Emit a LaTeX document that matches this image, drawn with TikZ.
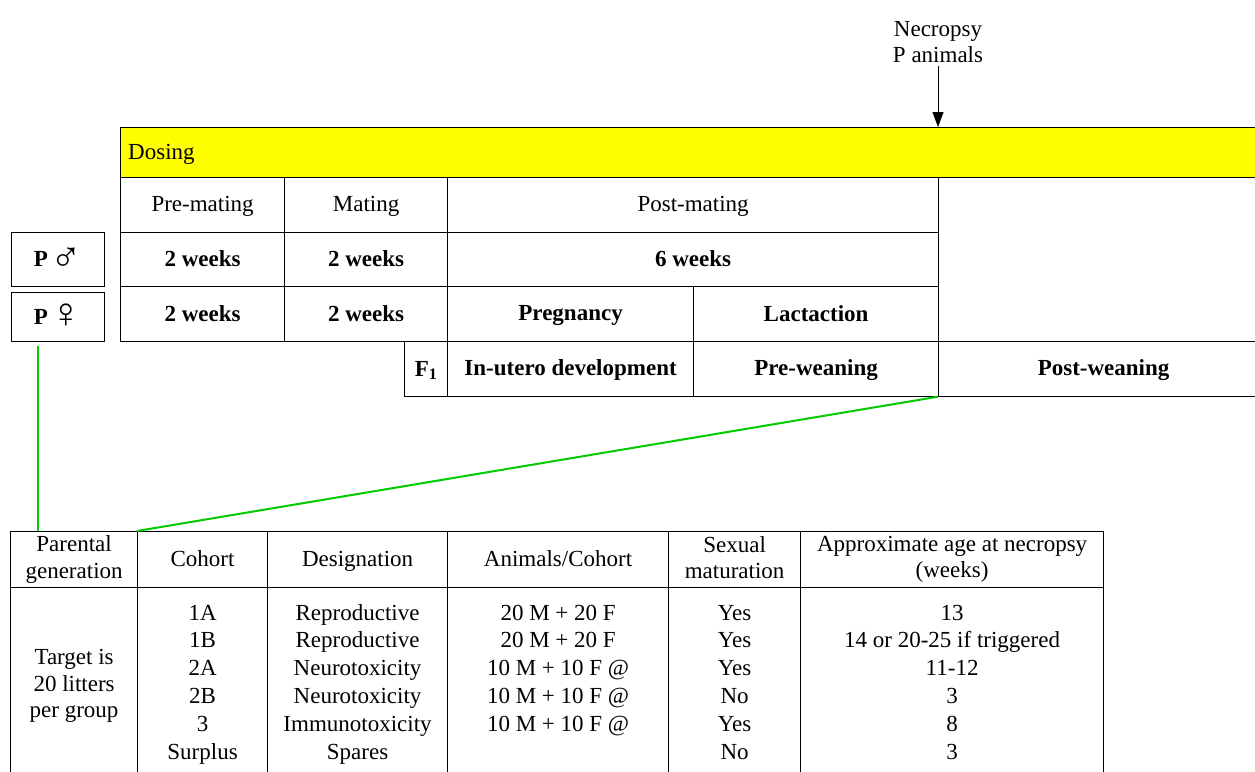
\documentclass[tikz,border=0pt]{standalone}
\usepackage{fontspec}
\setmainfont{Liberation Serif}
\usetikzlibrary{arrows.meta, calc, positioning}
\definecolor{dosingyellow}{RGB}{255,255,0}
\definecolor{linkgreen}{RGB}{0,204,0}
\newcommand{\cellstrut}{\rule[-3.5pt]{0pt}{22pt}}
\newcommand{\malesign}{\smash{\raisebox{-5pt}{\mdseries\fontsize{42}{42}\selectfont\char"2642}}}
\newcommand{\femalesign}{\smash{\raisebox{-3pt}{\mdseries\fontsize{42}{42}\selectfont\char"2640}}}
\tikzset{
  cell/.style={
    draw,
    rectangle,
    inner sep=0pt,
    anchor=north west,
    align=center,
    line width=1.2pt,
    execute at begin node=\cellstrut,
    execute at end node=\cellstrut
  },
  bold cell/.style={
    cell,
    font=\fontsize{23}{26.5}\selectfont\bfseries
  },
  dosing band/.style={
    cell,
    fill=dosingyellow
  },
  link line/.style={
    draw=linkgreen,
    line width=2pt
  },
  necropsy arrow/.style={
    -{Triangle[length=15pt, width=11pt]},
    line width=1pt
  },
  entry/.style={
    anchor=base,
    inner sep=0pt
  }
}

\begin{document}
\begin{tikzpicture}[x=1pt, y=-1pt, font=\fontsize{23}{26.5}\selectfont]
  \path[use as bounding box, clip] (0,0) rectangle (1255,771);

  %% ---- Dosing band ----
  \node[dosing band, minimum width=1160pt, minimum height=50pt] (dosing) at (120,127) {};
  \node[anchor=west, inner sep=0pt] (dosinglabel) at ($(dosing.west)+(8,0)$) {\cellstrut Dosing};

  %% ---- Necropsy of P animals ----
  \node[align=center, inner sep=3pt] (necropsy) at (938,42) {Necropsy\\P animals};
  \draw[necropsy arrow] (necropsy.south) -- (necropsy |- dosing.north);

  %% ---- Phases ----
  \node[cell, minimum width=164pt, minimum height=54.5pt] (premating)  at (120,177) {Pre-mating};
  \node[cell, minimum width=163pt, minimum height=54.5pt] (mating)     at (284,177) {Mating};
  \node[cell, minimum width=491pt, minimum height=54.5pt] (postmating) at (447,177) {Post-mating};

  %% ---- P males ----
  \node[bold cell, minimum width=93pt,  minimum height=54.5pt] (pmale) at (11,231.5) {P\hspace{3pt}\malesign};
  \node[bold cell, minimum width=164pt, minimum height=54.5pt] (pmale1) at (120,231.5) {2 weeks};
  \node[bold cell, minimum width=163pt, minimum height=54.5pt] (pmale2) at (284,231.5) {2 weeks};
  \node[bold cell, minimum width=491pt, minimum height=54.5pt] (pmale3) at (447,231.5) {6 weeks};

  %% ---- P females ----
  \node[bold cell, minimum width=93pt,  minimum height=49pt] (pfemale) at (11,292) {P\hspace{3pt}\femalesign};
  \node[bold cell, minimum width=164pt, minimum height=55pt] (pfemale1)  at (120,286) {2 weeks};
  \node[bold cell, minimum width=163pt, minimum height=55pt] (pfemale2)  at (284,286) {2 weeks};
  \node[bold cell, minimum width=246pt, minimum height=55pt] (pregnancy) at (447,286) {Pregnancy};
  \node[bold cell, minimum width=245pt, minimum height=55pt] (lactation) at (693,286) {Lactaction};

  %% ---- F1 ----
  \node[bold cell, minimum width=43pt,  minimum height=54.5pt] (fone)        at (404,341) {F\textsubscript{1}};
  \node[bold cell, minimum width=246pt, minimum height=54.5pt] (inutero)     at (447,341) {In-utero development};
  \node[bold cell, minimum width=245pt, minimum height=54.5pt] (preweaning)  at (693,341) {Pre-weaning};
  \node[bold cell, minimum width=330pt, minimum height=54.5pt] (postweaning) at (938,341) {Post-weaning};

  %% ---- Cohort table ----
  \foreach \col/\cx/\cw/\txt in {parent/10/127/{Parental\\generation},
                                 cohort/137/130/{Cohort},
                                 design/267/180/{Designation},
                                 animals/447/221/{Animals/Cohort},
                                 sexual/668/132/{Sexual\\maturation},
                                 age/800/303/{Approximate age at necropsy\\(weeks)}} {
    \node[cell, minimum width=\cw pt, minimum height=55.5pt] (\col-head) at (\cx,531) {\txt};
    \node[cell, minimum width=\cw pt, minimum height=230pt]  (\col-body) at (\cx,586.5) {};
  }

  \coordinate (targetrow) at (0,686);
  \node[align=center, inner sep=0pt] (target) at (parent-head.south |- targetrow)
    {Target is\\20 litters\\per group};

  \foreach \i/\coh/\des/\ani/\sex/\age in {1/1A/Reproductive/{20 M + 20 F}/Yes/13,
                                           2/1B/Reproductive/{20 M + 20 F}/Yes/{14 or 20-25 if triggered},
                                           3/2A/Neurotoxicity/{10 M + 10 F @}/Yes/11-12,
                                           4/2B/Neurotoxicity/{10 M + 10 F @}/No/3,
                                           5/3/Immunotoxicity/{10 M + 10 F @}/Yes/8,
                                           6/Surplus/Spares/{}/No/3} {
    \pgfmathsetmacro{\yb}{620 + 27.8*(\i-1)}
    \coordinate (row\i) at (0,\yb);
    \node[entry] (coh\i) at (cohort-head.south |- row\i)  {\coh};
    \node[entry] (des\i) at (design-head.south |- row\i)  {\des};
    \node[entry] (ani\i) at (animals-head.south |- row\i) {\ani};
    \node[entry] (sex\i) at (sexual-head.south |- row\i)  {\sex};
    \node[entry] (age\i) at (age-head.south |- row\i)     {\age};
  }

  %% ---- Links to the cohort table ----
  \coordinate (pfemale link) at ($(pfemale.south west)+(27,4)$);
  \draw[link line] (pfemale link) -- (pfemale link |- parent-head.north);
  \draw[link line] (postweaning.south west) -- (cohort-head.north west);

\end{tikzpicture}
\end{document}
